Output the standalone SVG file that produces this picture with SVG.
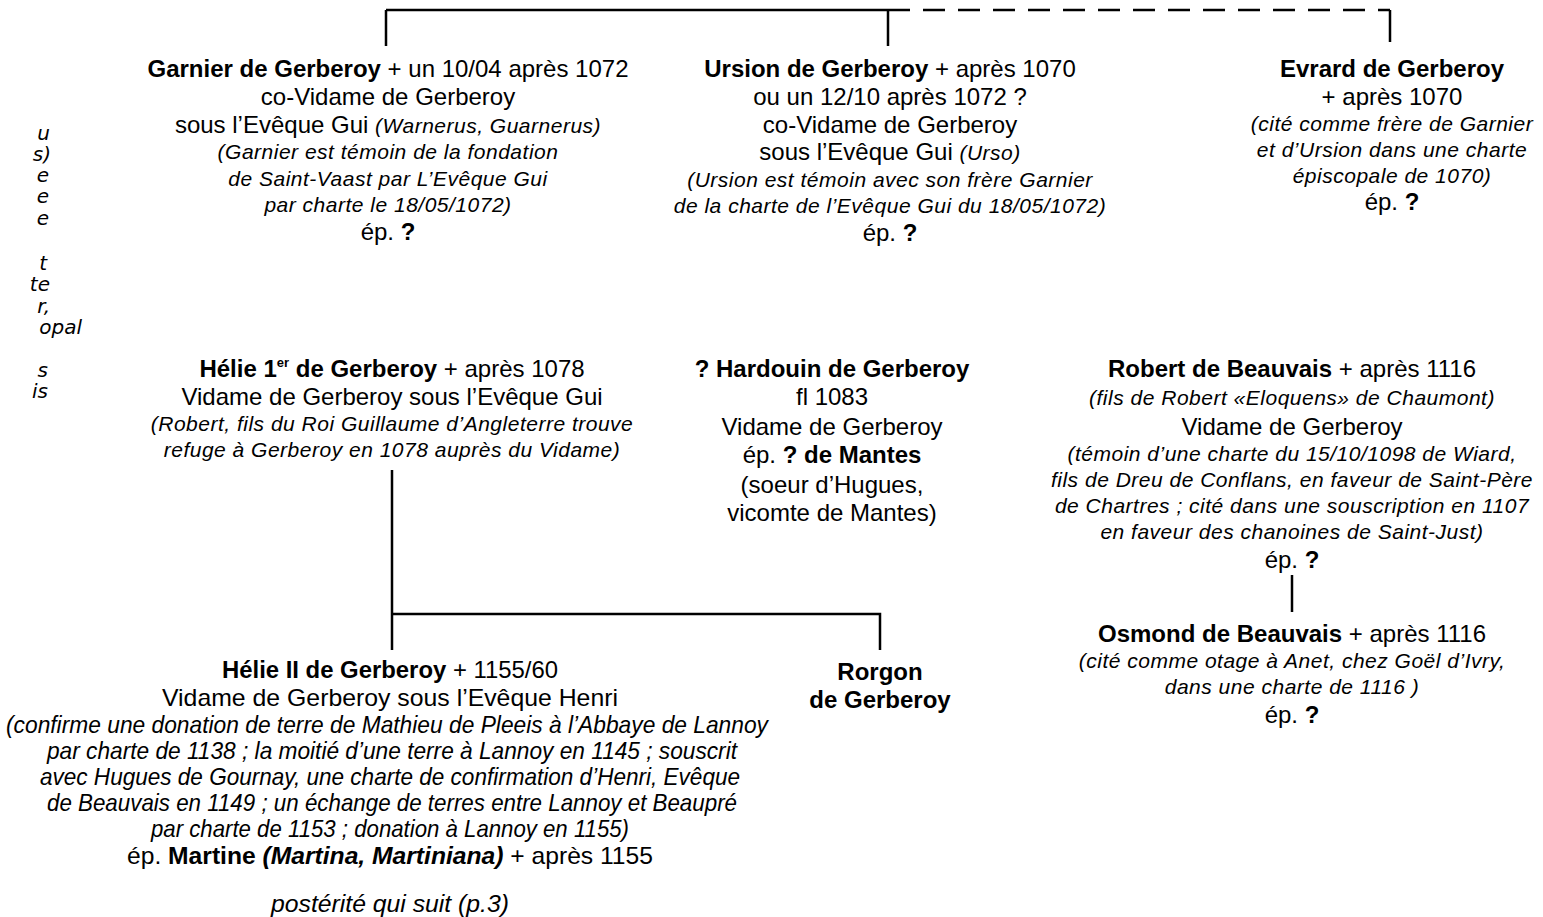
<svg xmlns="http://www.w3.org/2000/svg" width="1543" height="917" viewBox="0 0 1543 917">
<style>
text{font-family:"Liberation Sans",Arial,sans-serif;font-size:24px;fill:#000;text-anchor:middle}
.b{font-weight:bold}
.i{font-style:italic;font-size:21px;letter-spacing:0.5px}
.n{font-family:"Liberation Sans Narrow","Liberation Sans",Arial,sans-serif}
.f{font-family:"DejaVu Sans",Verdana,sans-serif;font-style:italic;font-size:20px;text-anchor:end}
.c{fill:none;stroke:#000;stroke-width:2.5}
.d{stroke-dasharray:22 13}
</style>
<g id="connectors">
<path class="c" d="M386 10H888M386 10V46M888 10V46M1390 10V42"/>
<path class="c d" d="M888 10H1390"/>
<path class="c" d="M392 470V650M392 614H880V650"/>
<path class="c" d="M1292 575V612"/>
</g>
<g id="fragments">
<text class="f" x="50" y="140">u</text>
<text class="f" x="51" y="161">s)</text>
<text class="f" x="49" y="182">e</text>
<text class="f" x="49" y="203">e</text>
<text class="f" x="49" y="225">e</text>
<text class="f" x="47" y="270">t</text>
<text class="f" x="50" y="291">te</text>
<text class="f" x="50" y="313">r,</text>
<text class="f" x="82" y="334">opal</text>
<text class="f" x="48" y="377">s</text>
<text class="f" x="48" y="398">is</text>
</g>
<g id="garnier">
<text x="388" y="77"><tspan class="b">Garnier de Gerberoy</tspan> + un 10/04 après 1072</text>
<text x="388" y="105">co-Vidame de Gerberoy</text>
<text x="388" y="133">sous l’Evêque Gui <tspan class="i">(Warnerus, Guarnerus)</tspan></text>
<text class="i" x="388" y="159">(Garnier est témoin de la fondation</text>
<text class="i" x="388" y="186">de Saint-Vaast par L’Evêque Gui</text>
<text class="i" x="388" y="212">par charte le 18/05/1072)</text>
<text x="388" y="240">ép. <tspan class="b">?</tspan></text>
</g>
<g id="ursion">
<text x="890" y="77"><tspan class="b">Ursion de Gerberoy</tspan> + après 1070</text>
<text x="890" y="105">ou un 12/10 après 1072 ?</text>
<text x="890" y="133">co-Vidame de Gerberoy</text>
<text x="890" y="160">sous l’Evêque Gui <tspan class="i">(Urso)</tspan></text>
<text class="i" x="890" y="187">(Ursion est témoin avec son frère Garnier</text>
<text class="i" x="890" y="213">de la charte de l’Evêque Gui du 18/05/1072)</text>
<text x="890" y="241">ép. <tspan class="b">?</tspan></text>
</g>
<g id="evrard">
<text class="b" x="1392" y="77">Evrard de Gerberoy</text>
<text x="1392" y="105">+ après 1070</text>
<text class="i" x="1392" y="131">(cité comme frère de Garnier</text>
<text class="i" x="1392" y="157">et d’Ursion dans une charte</text>
<text class="i" x="1392" y="183">épiscopale de 1070)</text>
<text x="1392" y="210">ép. <tspan class="b">?</tspan></text>
</g>
<g id="helie1">
<text x="392" y="377"><tspan class="b">Hélie 1<tspan font-size="13" dy="-10">er</tspan><tspan dy="10"> de Gerberoy</tspan></tspan> + après 1078</text>
<text x="392" y="405">Vidame de Gerberoy sous l’Evêque Gui</text>
<text class="i" x="392" y="431">(Robert, fils du Roi Guillaume d’Angleterre trouve</text>
<text class="i" x="392" y="457">refuge à Gerberoy en 1078 auprès du Vidame)</text>
</g>
<g id="hardouin">
<text class="b" x="832" y="377">? Hardouin de Gerberoy</text>
<text x="832" y="405">fl 1083</text>
<text x="832" y="435">Vidame de Gerberoy</text>
<text x="832" y="463">ép. <tspan class="b">? de Mantes</tspan></text>
<text x="832" y="493">(soeur d’Hugues,</text>
<text x="832" y="521">vicomte de Mantes)</text>
</g>
<g id="robert">
<text x="1292" y="377"><tspan class="b">Robert de Beauvais</tspan> + après 1116</text>
<text class="i" x="1292" y="405">(fils de Robert «Eloquens» de Chaumont)</text>
<text x="1292" y="435">Vidame de Gerberoy</text>
<text class="i" x="1292" y="461">(témoin d’une charte du 15/10/1098 de Wiard,</text>
<text class="i" x="1292" y="487">fils de Dreu de Conflans, en faveur de Saint-Père</text>
<text class="i" x="1292" y="513">de Chartres ; cité dans une souscription en 1107</text>
<text class="i" x="1292" y="539">en faveur des chanoines de Saint-Just)</text>
<text x="1292" y="568">ép. <tspan class="b">?</tspan></text>
</g>
<g id="osmond">
<text x="1292" y="642"><tspan class="b">Osmond de Beauvais</tspan> + après 1116</text>
<text class="i" x="1292" y="668">(cité comme otage à Anet, chez Goël d’Ivry,</text>
<text class="i" x="1292" y="694">dans une charte de 1116 )</text>
<text x="1292" y="723">ép. <tspan class="b">?</tspan></text>
</g>
<g id="rorgon">
<text class="b" x="880" y="680">Rorgon</text>
<text class="b" x="880" y="708">de Gerberoy</text>
</g>
<g id="helie2" class="n">
<text class="n" x="390" y="678" textLength="336" lengthAdjust="spacingAndGlyphs"><tspan class="b">Hélie II de Gerberoy</tspan> + 1155/60</text>
<text class="n" x="390" y="706" textLength="456" lengthAdjust="spacingAndGlyphs">Vidame de Gerberoy sous l’Evêque Henri</text>
<text class="n" x="387" y="733" font-style="italic" textLength="762" lengthAdjust="spacingAndGlyphs">(confirme une donation de terre de Mathieu de Pleeis à l’Abbaye de Lannoy</text>
<text class="n" x="392" y="759" font-style="italic" textLength="690" lengthAdjust="spacingAndGlyphs">par charte de 1138 ; la moitié d’une terre à Lannoy en 1145 ; souscrit</text>
<text class="n" x="390" y="785" font-style="italic" textLength="700" lengthAdjust="spacingAndGlyphs">avec Hugues de Gournay, une charte de confirmation d’Henri, Evêque</text>
<text class="n" x="392" y="811" font-style="italic" textLength="690" lengthAdjust="spacingAndGlyphs">de Beauvais en 1149 ; un échange de terres entre Lannoy et Beaupré</text>
<text class="n" x="390" y="837" font-style="italic" textLength="478" lengthAdjust="spacingAndGlyphs">par charte de 1153 ; donation à Lannoy en 1155)</text>
<text class="n" x="390" y="864" textLength="526" lengthAdjust="spacingAndGlyphs">ép. <tspan class="b">Martine <tspan font-style="italic">(Martina, Martiniana)</tspan></tspan> + après 1155</text>
<text class="n" x="390" y="912" font-style="italic" textLength="238" lengthAdjust="spacingAndGlyphs">postérité qui suit (p.3)</text>
</g>
</svg>
